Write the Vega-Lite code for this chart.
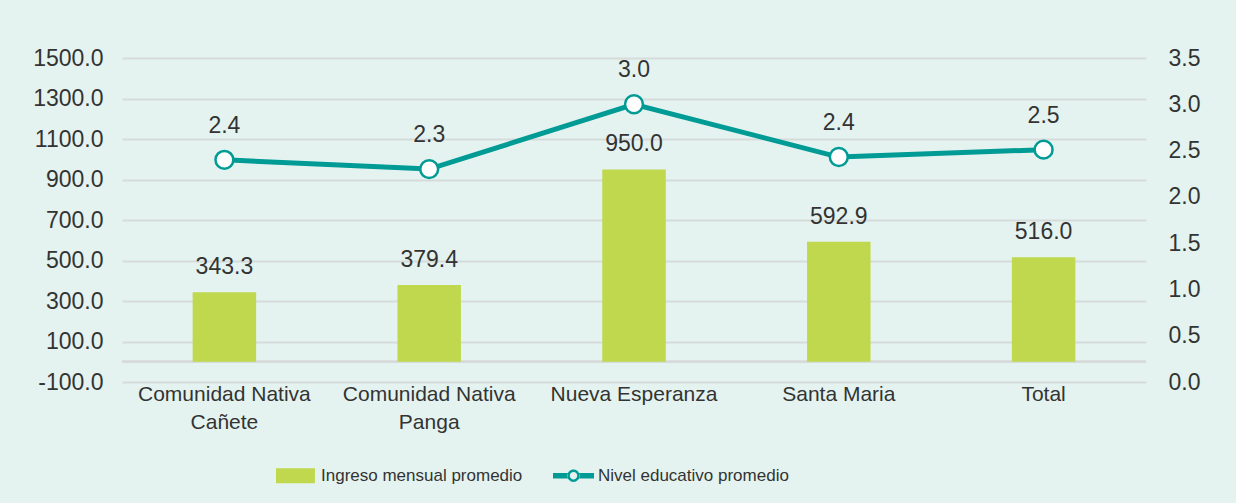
{
  "$schema": "https://vega.github.io/schema/vega-lite/v6.json",
  "width": 1024,
  "height": 324,
  "autosize": {"type": "none"},
  "padding": {"left": 122, "top": 58, "right": 90, "bottom": 121},
  "background": "#e4f3f0",
  "config": {
    "font": "Liberation Sans",
    "view": {"stroke": null},
    "axis": {"labelFontSize": 23, "labelColor": "#333333", "domain": false, "ticks": false, "labelFont": "Liberation Sans"},
    "legend": {"labelFont": "Liberation Sans"},
    "text": {"font": "Liberation Sans"}
  },
  "data": {
    "values": [
      {"loc": "Comunidad Nativa Cañete", "ingreso": 343.3, "nivel": 2.4},
      {"loc": "Comunidad Nativa Panga", "ingreso": 379.4, "nivel": 2.3},
      {"loc": "Nueva Esperanza", "ingreso": 950.0, "nivel": 3.0},
      {"loc": "Santa Maria", "ingreso": 592.9, "nivel": 2.43},
      {"loc": "Total", "ingreso": 516.0, "nivel": 2.51}
    ]
  },
  "encoding": {
    "x": {
      "field": "loc", "type": "nominal", "sort": null, "title": null,
      "scale": {"paddingInner": 0.69, "paddingOuter": 0.345},
      "axis": {
        "labelAngle": 0, "labelPadding": 1, "labelLineHeight": 28, "labelFontSize": 21,
        "labelExpr": "indexof(datum.label,'Comunidad Nativa ')==0 ? ['Comunidad Nativa', replace(datum.label,'Comunidad Nativa ','')] : datum.label"
      }
    }
  },
  "layer": [
    {
      "layer": [
        {
          "mark": {"type": "rule", "color": "#d6dbda", "strokeWidth": 2},
          "encoding": {"x": null, "y": {"datum": 0}}
        },
        {
          "mark": {"type": "bar", "color": "#bfd84d"},
          "encoding": {
            "y": {
              "field": "ingreso", "type": "quantitative", "title": null,
              "scale": {"domain": [-100, 1500], "nice": false, "zero": false},
              "axis": {
                "orient": "left", "values": [-100, 100, 300, 500, 700, 900, 1100, 1300, 1500],
                "format": ".1f", "labelExpr": "replace(datum.label, '\u2212', '-')",
                "labelPadding": 19, "grid": true, "gridColor": "#d6dbda", "gridWidth": 2
              }
            },
            "y2": {"datum": 0},
            "color": {
              "datum": "Ingreso mensual promedio",
              "type": "nominal",
              "scale": {"domain": ["Ingreso mensual promedio", "Nivel educativo promedio"], "range": ["#bfd84d", "#009b95"]},
              "legend": {
                "title": null, "orient": "none", "legendX": 154, "legendY": 397,
                "direction": "horizontal", "labelFontSize": 17, "labelColor": "#333333", "labelLimit": 0,
                "labelOffset": 4, "columnPadding": 30, "symbolSize": 1681,
                "symbolStrokeWidth": 0,
                "encode": {
                  "symbols": {
                    "update": {
                      "shape": {"signal": "datum.value === 'Ingreso mensual promedio' ? 'M-1,-0.36 H0.9 V0.36 H-1 Z' : 'M-1,-0.14 H-0.28 V0.14 H-1 Z M0.28,-0.14 H1 V0.14 H0.28 Z M-0.3,0 A0.3,0.3 0 1,0 0.3,0 A0.3,0.3 0 1,0 -0.3,0 Z M-0.18,0 A0.18,0.18 0 1,1 0.18,0 A0.18,0.18 0 1,1 -0.18,0 Z'"},
                      "fill": {"signal": "datum.value === 'Ingreso mensual promedio' ? '#bfd84d' : '#009b95'"},
                      "stroke": {"value": "transparent"},
                      "opacity": {"value": 1}
                    }
                  }
                }
              }
            }
          }
        },
        {
          "mark": {"type": "text", "dy": -18, "baseline": "alphabetic", "fontSize": 23, "color": "#333333"},
          "encoding": {
            "y": {"field": "ingreso", "type": "quantitative"},
            "text": {"field": "ingreso", "type": "quantitative", "format": ".1f"}
          }
        }
      ]
    },
    {
      "layer": [
        {
          "mark": {"type": "line", "color": "#009b95", "strokeWidth": 5},
          "encoding": {
            "y": {
              "field": "nivel", "type": "quantitative", "title": null,
              "scale": {"domain": [0, 3.5], "nice": false},
              "axis": {
                "orient": "right", "values": [0, 0.5, 1, 1.5, 2, 2.5, 3, 3.5],
                "format": ".1f", "labelPadding": 22, "grid": false
              }
            },
            "color": {"datum": "Nivel educativo promedio", "type": "nominal"}
          }
        },
        {
          "mark": {"type": "point", "shape": "circle", "filled": true, "fill": "white", "stroke": "#009b95", "strokeWidth": 2.5, "size": 320, "opacity": 1},
          "encoding": {"y": {"field": "nivel", "type": "quantitative"}}
        },
        {
          "mark": {"type": "text", "dy": -27, "baseline": "alphabetic", "fontSize": 23, "color": "#333333"},
          "encoding": {
            "y": {"field": "nivel", "type": "quantitative"},
            "text": {"field": "nivel", "type": "quantitative", "format": ".1f"}
          }
        }
      ]
    }
  ],
  "resolve": {"scale": {"y": "independent"}}
}
